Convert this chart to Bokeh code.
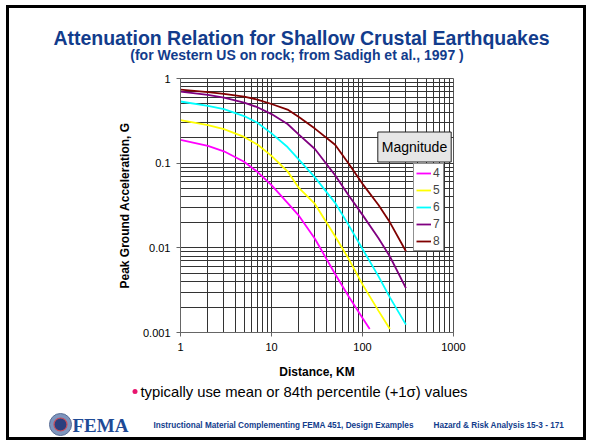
from bokeh.plotting import figure
from bokeh.layouts import column
from bokeh.models import Range1d, FixedTicker, Label, Legend, LegendItem
from bokeh.core.properties import value
from bokeh.embed import file_html
from bokeh.resources import INLINE

# ---- data ----
magnitudes = ["4", "5", "6", "7", "8"]
colors = ["#FF00FF", "#FFFF00", "#00FFFF", "#800080", "#800000"]

dist_m4 = [1, 2, 3, 5, 7, 10, 15, 20, 30, 50, 70, 100, 120]
pga_m4 = [0.189, 0.16, 0.138, 0.104, 0.079, 0.055, 0.034, 0.024, 0.0128, 0.0049, 0.0027, 0.00148, 0.0011]

dist_m5 = [1, 2, 3, 5, 7, 10, 15, 20, 30, 50, 70, 100, 150, 200]
pga_m5 = [0.323, 0.282, 0.252, 0.204, 0.166, 0.122, 0.080, 0.051, 0.033, 0.0137, 0.0075, 0.0037, 0.0018, 0.0011]

dist_m6 = [1, 2, 3, 5, 7, 10, 15, 20, 30, 50, 70, 100, 150, 200, 300]
pga_m6 = [0.535, 0.476, 0.434, 0.36, 0.30, 0.225, 0.155, 0.11, 0.068, 0.034, 0.0188, 0.0097, 0.0046, 0.0026, 0.00124]

dist_m7 = [1, 2, 3, 5, 7, 10, 15, 20, 30, 50, 70, 100, 150, 200, 300]
pga_m7 = [0.70, 0.64, 0.594, 0.52, 0.458, 0.38, 0.29, 0.217, 0.147, 0.072, 0.042, 0.0245, 0.013, 0.0079, 0.00335]

dist_m8 = [1, 2, 3, 5, 7, 10, 15, 20, 30, 50, 70, 100, 150, 200, 300]
pga_m8 = [0.74, 0.69, 0.66, 0.612, 0.564, 0.50, 0.43, 0.35, 0.256, 0.165, 0.10, 0.057, 0.032, 0.020, 0.0091]

x_ticks = [1, 10, 100, 1000]
x_tick_labels = ["1", "10", "100", "1000"]
y_ticks = [0.001, 0.01, 0.1, 1]
y_tick_labels = ["0.001", "0.01", "0.1", "1"]

title_text = "Attenuation Relation for Shallow Crustal Earthquakes"
subtitle_text = "(for Western US on rock; from Sadigh et al., 1997 )"
x_label = "Distance, KM"
y_label = "Peak Ground Acceleration, G"
legend_title = "Magnitude"
bullet_text = "typically use mean or 84th percentile (+1\u03c3) values"
footer_left = "Instructional Material Complementing FEMA 451, Design Examples"
footer_right = "Hazard & Risk Analysis  15-3 - 171"

FONT = "Liberation Sans"
BLUE = "#123C8C"
W = 574
TOP_H, MAIN_H, BOT_H = 58, 316, 55


def deco_figure(h):
    f = figure(width=W, height=h, x_range=Range1d(0, W), y_range=Range1d(h, 0),
               output_backend="svg", toolbar_location=None,
               x_axis_location=None, y_axis_location=None, min_border=0,
               frame_align=False)
    f.grid.visible = False
    f.outline_line_color = None
    f.background_fill_color = "white"
    f.border_fill_color = "white"
    return f


# ---- top: title and subtitle ----
top = deco_figure(TOP_H)
top.text(x=[292], y=[29], text=[title_text], text_font=value(FONT), text_font_size="19.5px",
         text_font_style="bold", text_color=BLUE, text_align="center", text_baseline="middle")
top.text(x=[287.5], y=[46.5], text=[subtitle_text], text_font=value(FONT), text_font_size="14px",
         text_font_style="bold", text_color=BLUE, text_align="center", text_baseline="middle")

# ---- main chart ----
p = figure(width=W, height=MAIN_H, x_axis_type="log", y_axis_type="log",
           x_range=Range1d(1, 1000), y_range=Range1d(0.001, 1),
           output_backend="svg", toolbar_location=None,
           min_border_left=171, min_border_right=130,
           min_border_top=12, min_border_bottom=50, frame_align=False)
p.background_fill_color = "white"
p.border_fill_color = "white"
p.outline_line_color = "#555555"

x_minor = [m * 10 ** k for k in range(0, 3) for m in range(2, 10)]
y_minor = [m * 10.0 ** k for k in range(-3, 0) for m in range(2, 10)]
p.xaxis.ticker = FixedTicker(ticks=x_ticks, minor_ticks=x_minor)
p.yaxis.ticker = FixedTicker(ticks=y_ticks, minor_ticks=y_minor)
p.xaxis.major_label_overrides = {t: l for t, l in zip(x_ticks, x_tick_labels)}
p.yaxis.major_label_overrides = {t: l for t, l in zip(y_ticks, y_tick_labels)}

for ax in (p.xaxis[0], p.yaxis[0]):
    ax.major_label_text_font = FONT
    ax.major_label_text_font_size = "11px"
    ax.major_label_text_color = "black"
    ax.axis_label_text_font = FONT
    ax.axis_label_text_font_size = "12px"
    ax.axis_label_text_font_style = "bold"
    ax.axis_label_text_color = "black"
    ax.axis_line_color = "#666666"
    ax.major_tick_line_color = "#666666"
    ax.major_tick_out = 4
    ax.major_tick_in = 0
    ax.minor_tick_line_color = None
    ax.major_label_standoff = 6

p.xaxis.axis_label = x_label
p.xaxis.axis_label_standoff = 11
p.yaxis.axis_label = y_label
p.yaxis.axis_label_standoff = 8

for g in (p.xgrid[0], p.ygrid[0]):
    g.grid_line_color = "#333333"
    g.grid_line_width = 1
    g.minor_grid_line_color = "#333333"
    g.minor_grid_line_width = 1

series = [(dist_m4, pga_m4), (dist_m5, pga_m5), (dist_m6, pga_m6), (dist_m7, pga_m7), (dist_m8, pga_m8)]
items = []
for (d, a), c, m in zip(series, colors, magnitudes):
    r = p.line(d, a, line_color=c, line_width=1.8)
    items.append(LegendItem(label=m, renderers=[r]))

legend = Legend(items=items, location=(233, 81), orientation="vertical",
                label_text_font=FONT, label_text_font_size="12px",
                glyph_width=15, glyph_height=14, label_height=14, label_width=8,
                label_standoff=2, spacing=3, padding=2, margin=0,
                border_line_color="#222222", border_line_width=1,
                background_fill_color="white", background_fill_alpha=1)
p.add_layout(legend, "center")

p.add_layout(Label(x=405, y=80.5, x_units="canvas", y_units="canvas",
                   text=legend_title, text_font=FONT, text_font_size="14px",
                   text_align="center", text_baseline="middle", text_color="black",
                   background_fill_color="#E6E6E6", border_line_color="#222222",
                   padding=(4, 7)))

# ---- bottom: bullet and footer ----
bot = deco_figure(BOT_H)
bot.scatter(x=[125.5], y=[9], size=5, marker="circle", fill_color="#E8146E", line_color=None)
bot.text(x=[131], y=[9], text=[bullet_text], text_font=value(FONT), text_font_size="14.8px",
         text_color="black", text_align="left", text_baseline="middle")
bot.text(x=[144], y=[43], text=[footer_left], text_font=value(FONT), text_font_size="8.2px",
         text_font_style="bold", text_color=BLUE, text_align="left", text_baseline="middle")
bot.text(x=[424], y=[43], text=[footer_right], text_font=value(FONT), text_font_size="8.2px",
         text_font_style="bold", text_color=BLUE, text_align="left", text_baseline="middle")
# FEMA seal and word mark
bot.scatter(x=[51], y=[42], size=22, marker="circle", fill_color="#7D95BE", line_color="#5A6E96")
bot.scatter(x=[51], y=[42], size=13, marker="circle", fill_color="#2B3F7E", line_color="#C84C5A",
            line_width=1.2)
bot.text(x=[63], y=[43], text=["FEMA"], text_font=value("Liberation Serif"), text_font_size="19px",
         text_font_style="bold", text_color="#1E4A96", text_align="left", text_baseline="middle")

layout = column(top, p, bot, spacing=0,
                styles={"border": "3px solid black", "margin-left": "6px", "margin-top": "5px"})

open("out.html", "w").write(file_html(layout, INLINE))
